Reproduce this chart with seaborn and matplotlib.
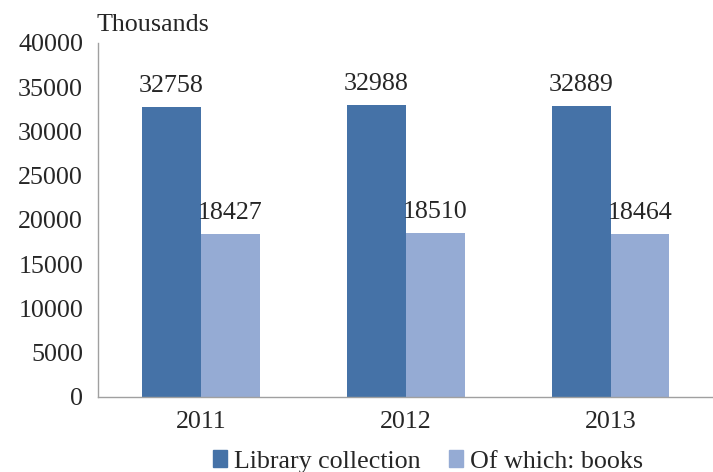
import pandas as pd
import matplotlib
matplotlib.use("Agg")
import matplotlib.pyplot as plt
import seaborn as sns
from matplotlib.ticker import FixedLocator, NullFormatter

years = ["2011", "2012", "2013"]
library_collection = [32758, 32988, 32889]
of_which_books = [18427, 18510, 18464]
series_names = ["Library collection", "Of which: books"]
colors = ["#4572A7", "#95ABD4"]

sns.set_style("white")
plt.rcParams['font.family'] = ['Liberation Serif', 'DejaVu Serif']
fs = 18.7

df = pd.DataFrame({
    "Year": years * 2,
    "Value": library_collection + of_which_books,
    "Series": [series_names[0]] * 3 + [series_names[1]] * 3,
})

fig = plt.figure(figsize=(7.13, 4.72), dpi=100)
ax = fig.add_axes([0.138, 0.159, 0.862, 0.75])

sns.barplot(data=df, x="Year", y="Value", hue="Series", palette=colors,
            width=0.575, saturation=1, linewidth=0, ax=ax, legend=False)

for cont in ax.containers:
    ax.bar_label(cont, padding=7, fontsize=fs)

ax.set_ylim(0, 40000)
ax.set_yticks(range(0, 40001, 5000))
ax.set_xlim(-0.5, 2.5)
ax.set_xlabel("")
ax.set_ylabel("")

sns.despine(ax=ax)
for s in ["left", "bottom"]:
    ax.spines[s].set_color("#A0A0A0")
    ax.spines[s].set_linewidth(1)

ax.tick_params(axis="y", length=7, color="#A0A0A0", width=1, pad=4, labelsize=fs)
ax.tick_params(axis="x", which="major", length=0, pad=10, labelsize=fs)
ax.xaxis.set_minor_locator(FixedLocator([-0.5, 0.5, 1.5, 2.5]))
ax.xaxis.set_minor_formatter(NullFormatter())
ax.tick_params(axis="x", which="minor", length=7, color="#A0A0A0", width=1)

fig.text(0.136, 0.947, "Thousands", fontsize=fs, va="center", ha="left")

handles = [plt.Rectangle((0, 0), 1, 1, color=c) for c in colors]
fig.legend(handles, series_names, loc="center", bbox_to_anchor=(0.6, 0.022),
           ncol=2, frameon=False, fontsize=fs, handlelength=0.55, handleheight=0.6,
           handletextpad=0.25, columnspacing=1.1)

fig.savefig("out.png", dpi=100)
